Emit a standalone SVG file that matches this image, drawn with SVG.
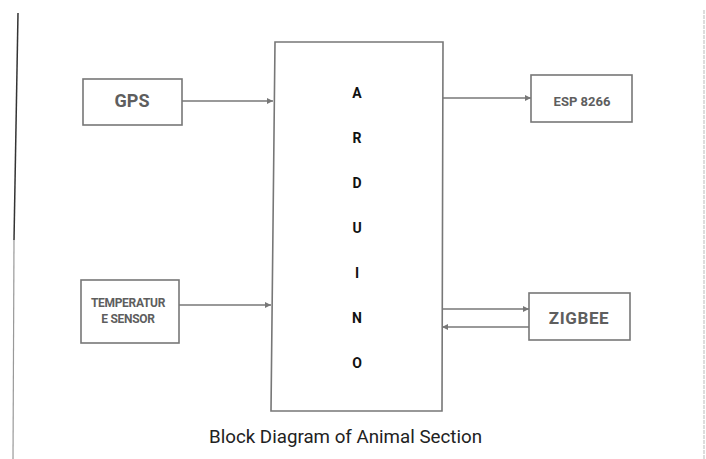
<svg xmlns="http://www.w3.org/2000/svg" width="706" height="459" viewBox="0 0 706 459">
<style>
.box{fill:#fff;stroke:#777;stroke-width:1.6}
.lbl{font-family:Roboto,"Liberation Sans",sans-serif;fill:#5e5e5e;text-anchor:middle;font-weight:bold}
.ard{font-family:Roboto,"Liberation Sans",sans-serif;fill:#111;text-anchor:middle;font-weight:bold;font-size:14px}
.con{stroke:#777;stroke-width:1.6;fill:none}
</style>
<defs>
<marker id="ah" viewBox="0 0 8 8" refX="8" refY="4" markerWidth="6" markerHeight="6" orient="auto" markerUnits="userSpaceOnUse">
<path d="M0,0 L8,4 L0,8 z" fill="#777"/>
</marker>
</defs>
<rect width="706" height="459" fill="#fff"/>
<line x1="18" y1="13" x2="14" y2="240" stroke="#333" stroke-width="1.5"/>
<line x1="14" y1="240" x2="13" y2="459" stroke="#999" stroke-width="1.2"/>
<line x1="704" y1="10" x2="704" y2="459" stroke="#bbb" stroke-width="1" stroke-dasharray="4 1"/>
<g id="arduino">
<path class="box" d="M275,42 L443,42 L442,411 L271,411 Z"/>
<text class="ard" x="357" y="98">A</text>
<text class="ard" x="357" y="143">R</text>
<text class="ard" x="357" y="188">D</text>
<text class="ard" x="357" y="233">U</text>
<text class="ard" x="357" y="278">I</text>
<text class="ard" x="357" y="323">N</text>
<text class="ard" x="357" y="368">O</text>
</g>
<g id="gps">
<rect class="box" x="83" y="79" width="99" height="46"/>
<text class="lbl" x="132" y="107" font-size="18">GPS</text>
</g>
<g id="temp">
<rect class="box" x="81" y="280" width="98" height="63"/>
<text class="lbl" x="128" y="307" font-size="12" letter-spacing="-0.3">TEMPERATUR</text>
<text class="lbl" x="128" y="323" font-size="12" letter-spacing="-0.3">E SENSOR</text>
</g>
<g id="esp">
<rect class="box" x="531" y="75" width="101" height="47"/>
<text class="lbl" x="582" y="106" font-size="13">ESP 8266</text>
</g>
<g id="zigbee">
<rect class="box" x="529" y="293" width="101" height="47"/>
<text class="lbl" x="579" y="324" font-size="17" font-weight="500" letter-spacing="0.6">ZIGBEE</text>
</g>
<g id="connectors">
<line class="con" x1="182" y1="101" x2="273" y2="101" marker-end="url(#ah)"/>
<line class="con" x1="179" y1="305" x2="271" y2="305" marker-end="url(#ah)"/>
<line class="con" x1="443" y1="98" x2="531" y2="98" marker-end="url(#ah)"/>
<line class="con" x1="442" y1="309" x2="529" y2="309" marker-end="url(#ah)"/>
<line class="con" x1="529" y1="327" x2="442" y2="327" marker-end="url(#ah)"/>
</g>
<text x="345.5" y="443" font-family="Roboto,'Liberation Sans',sans-serif" font-size="18" fill="#222" text-anchor="middle" textLength="273" lengthAdjust="spacingAndGlyphs">Block Diagram of Animal Section</text>
</svg>
